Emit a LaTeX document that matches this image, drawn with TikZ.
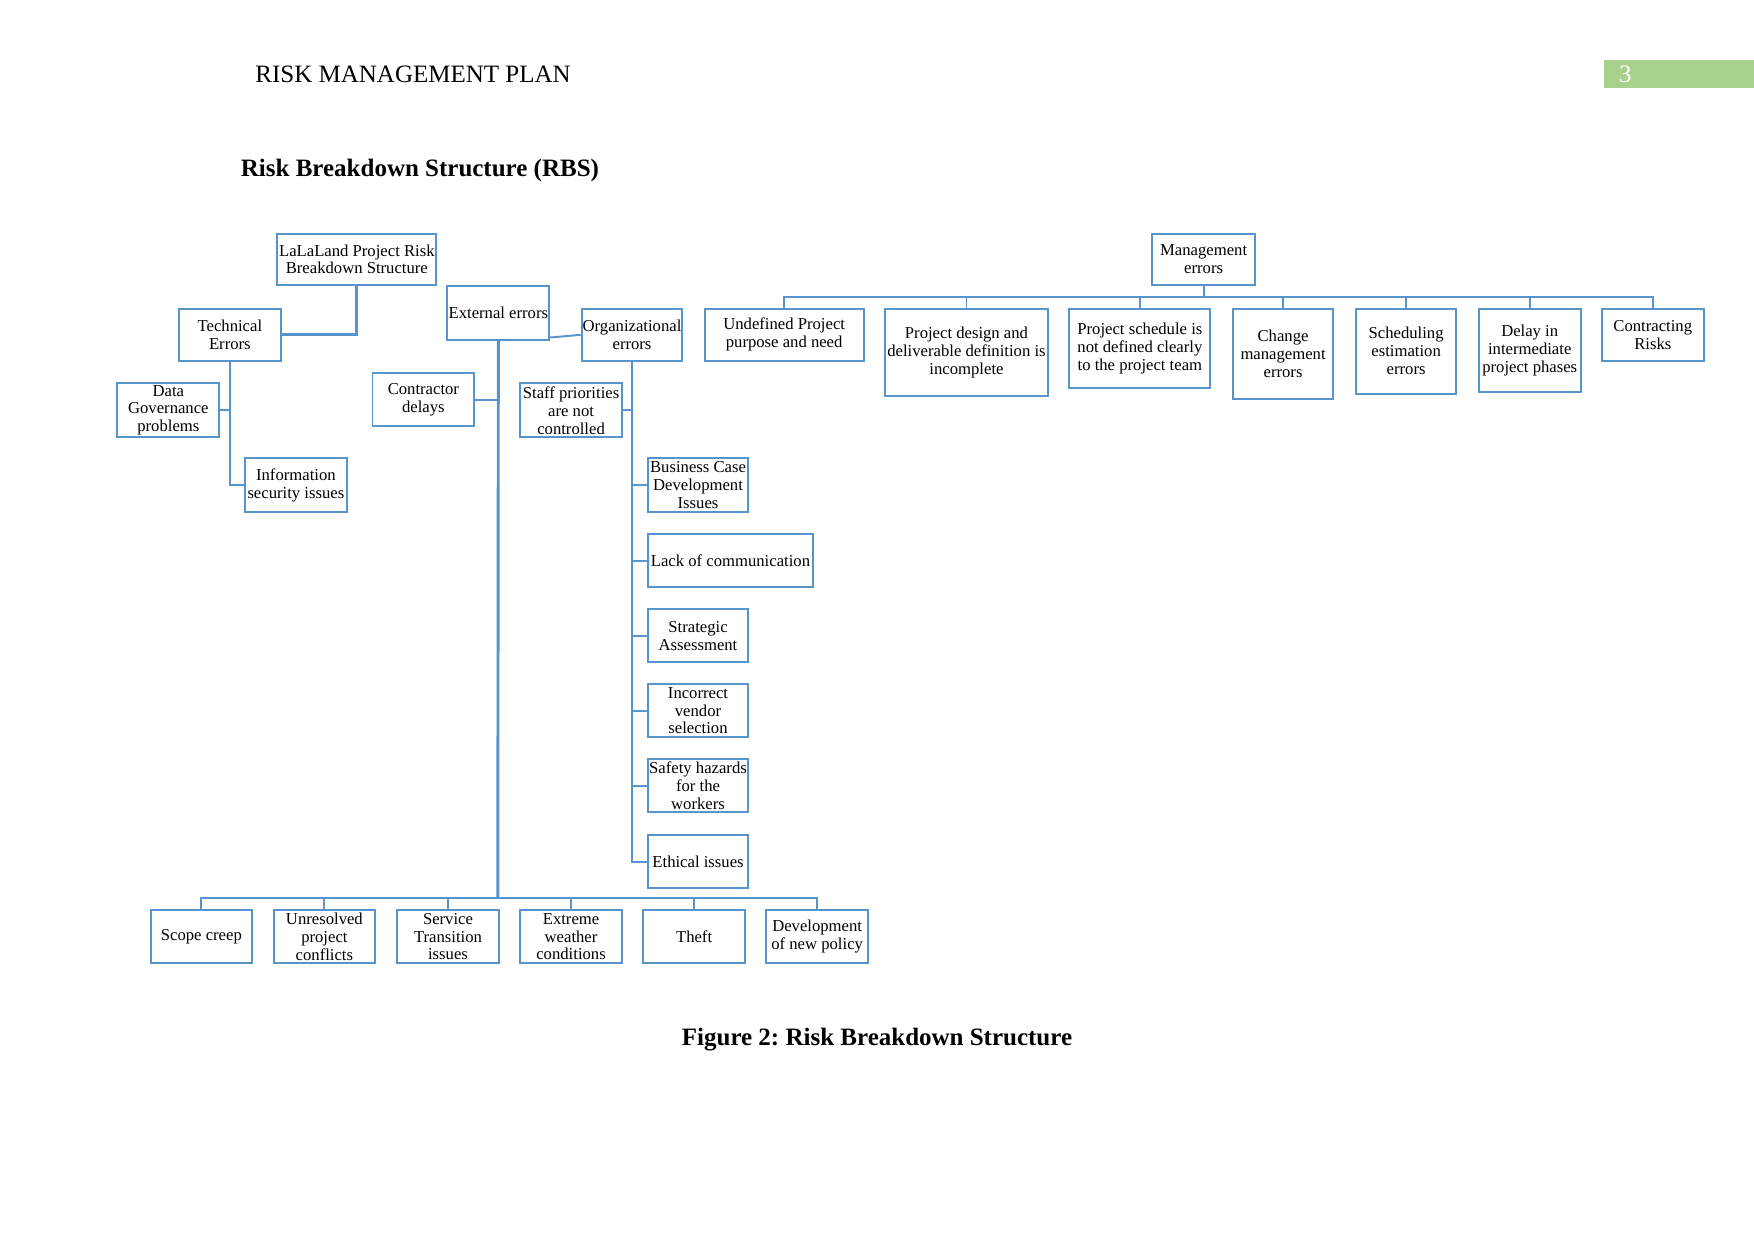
\documentclass[tikz,border=0pt]{standalone}
\usepackage{fontspec}
\setmainfont{Liberation Serif}
\frenchspacing
\definecolor{rbsblue}{RGB}{88,148,204}
\definecolor{pggreen}{RGB}{168,208,141}
\tikzset{
  rbsbox/.style={draw=rbsblue, line width=0.95pt, inner sep=0pt, align=center,
    font=\fontsize{8}{8.6}\selectfont},
  conn/.style={draw=rbsblue, line width=0.95pt},
  thickconn/.style={draw=rbsblue, line width=1.4pt},
}
\newcommand\rbsnode[6]{\node[rbsbox, minimum width={(#4-#2)*0.537pt}, minimum height={(#5-#3)*0.537pt}] (#1) at ({(#2+#4)/2},{(#3+#5)/2+0.8}) {#6};}
\begin{document}
\begin{tikzpicture}[x=0.537pt,y=-0.537pt]
\useasboundingbox (0,0) rectangle (1568,1109);
% header
\node[anchor=base west, inner sep=0pt, font=\fontsize{12}{14}\selectfont] (hdr) at (228,74) {RISK MANAGEMENT PLAN};
\fill[pggreen] (1434,54) rectangle (1568,79);
\node[anchor=base, inner sep=0pt, text=white, font=\fontsize{12}{14}\selectfont] (pgnum) at (1453,74) {3};
\node[anchor=base west, inner sep=0pt, font=\bfseries\fontsize{12}{14}\selectfont] (title) at (215,158) {Risk Breakdown Structure (RBS)};
\node[anchor=base, inner sep=0pt, font=\bfseries\fontsize{12}{14}\selectfont] (caption) at (784,935) {Figure 2: Risk Breakdown Structure};

% boxes
\rbsnode{lala}{248}{208}{390}{254}{LaLaLand Project Risk\\Breakdown Structure}
\rbsnode{tech}{160}{275}{251}{322}{Technical\\Errors}
\rbsnode{dg}{105}{342}{196}{390}{Data\\Governance\\problems}
\rbsnode{info}{219}{409}{310}{457}{Information\\security issues}
\rbsnode{ext}{400}{255}{491}{303}{External errors}
\rbsnode{org}{520}{275}{610}{322}{Organizational\\errors}
\rbsnode{contr}{333}{333}{424}{380}{Contractor\\delays}
\rbsnode{staff}{465}{342}{556}{390}{Staff priorities\\are not\\controlled}
\rbsnode{bcase}{579}{409}{669}{457}{Business Case\\Development\\Issues}
\rbsnode{lack}{579}{477}{727}{524}{Lack of communication}
\rbsnode{strat}{579}{544}{669}{591}{Strategic\\Assessment}
\rbsnode{vendor}{579}{611}{669}{658}{Incorrect\\vendor\\selection}
\rbsnode{safety}{579}{678}{669}{725}{Safety hazards\\for the\\workers}
\rbsnode{ethic}{579}{746}{669}{793}{Ethical issues}
\rbsnode{scope}{135}{813}{225}{860}{Scope creep}
\rbsnode{unres}{245}{813}{335}{860}{Unresolved\\project\\conflicts}
\rbsnode{serv}{355}{813}{446}{860}{Service\\Transition\\issues}
\rbsnode{extreme}{465}{813}{556}{860}{Extreme\\weather\\conditions}
\rbsnode{theft}{575}{813}{666}{860}{Theft}
\rbsnode{devpol}{685}{813}{776}{860}{Development\\of new policy}
\rbsnode{mgmt}{1030}{208}{1122}{254}{Management\\errors}
\rbsnode{undef}{630}{275}{772}{322}{Undefined Project\\purpose and need}
\rbsnode{design}{791}{275}{937}{353}{Project design and\\deliverable definition is\\incomplete}
\rbsnode{sched}{956}{275}{1082}{346}{Project schedule is\\not defined clearly\\to the project team}
\rbsnode{change}{1102}{275}{1192}{356}{Change\\management\\errors}
\rbsnode{estim}{1212}{275}{1302}{351}{Scheduling\\estimation\\errors}
\rbsnode{delay}{1322}{275}{1413}{350}{Delay in\\intermediate\\project phases}
\rbsnode{contrisk}{1432}{275}{1523}{322}{Contracting\\Risks}

% connectors: root / technical
\draw[thickconn] (lala.south) |- (tech.east);
\draw[conn] (tech.south) |- (dg.east);
\draw[conn] (tech.south) |- (info.west);

% external errors
\coordinate (extbus) at (445,803);
\draw[thickconn] (ext.south) -- (extbus);
\draw[conn] (contr.east) -- (contr.east -| ext.south);
\draw[conn] (scope.north) -- ++(0,-10) -| (devpol.north);
\foreach \n in {unres,serv,extreme,theft}{\draw[conn] (\n.north) -- ++(0,-10);}
\draw[conn] ([yshift=1.6pt]ext.south east) -- (org.west);

% organizational errors
\foreach \n in {bcase,lack,strat,vendor,safety,ethic}{\draw[conn] (org.south) |- (\n.west);}
\draw[conn] (org.south) |- (staff.east);

% management errors
\coordinate (mbus) at (1076,266);
\draw[conn] (mgmt.south) -- (mbus);
\draw[conn] (undef.north) -- ++(0,-9) -| (contrisk.north);
\foreach \n in {design,sched,change,estim,delay}{\draw[conn] (\n.north) -- ++(0,-9);}
\end{tikzpicture}
\end{document}
